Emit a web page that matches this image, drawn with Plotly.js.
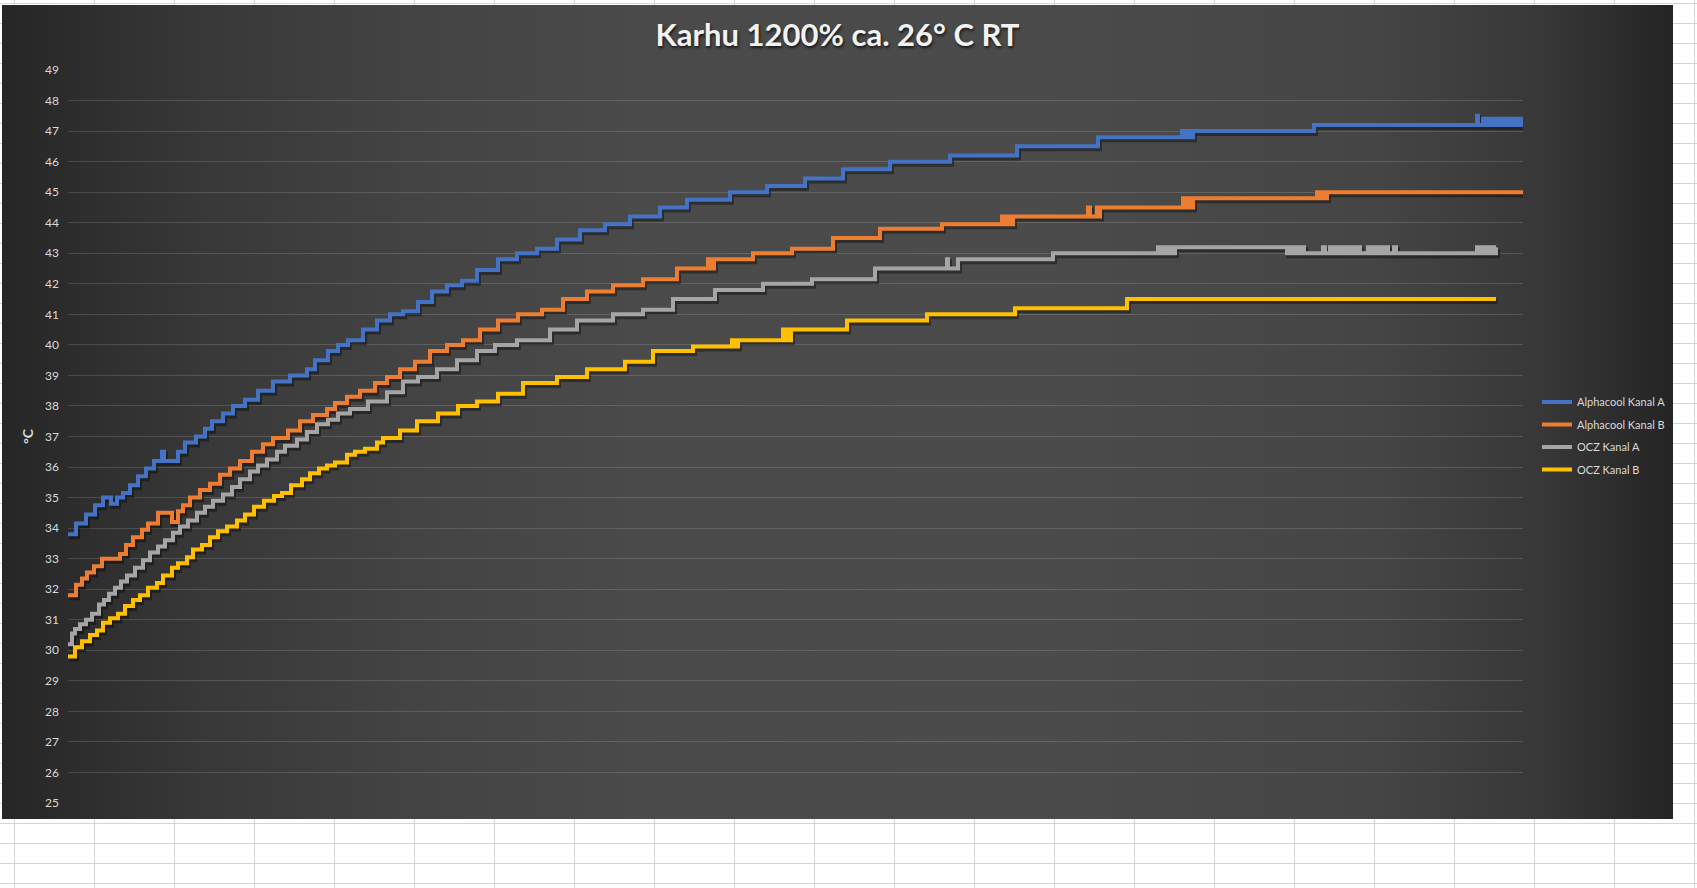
<!DOCTYPE html>
<html>
<head>
<meta charset="utf-8">
<script src="https://cdn.plot.ly/plotly-3.0.1.min.js"></script>
<style>
  html, body { margin: 0; padding: 0; }
  body {
    width: 1697px; height: 888px; overflow: hidden; position: relative;
    background-color: #ffffff;
    background-image:
      linear-gradient(to right, #d4d4d4 1px, transparent 1px),
      linear-gradient(to bottom, #d4d4d4 1px, transparent 1px);
    background-size: 80px 20px;
    background-position: 14px 3px;
  }
  #chart {
    position: absolute; left: 2px; top: 5px; width: 1671px; height: 814px;
    background: linear-gradient(to right, #262626 0%, #383838 12%, #434343 24%, #4a4a4a 38%, #4b4b4b 62%, #454545 82%, #383838 92%, #242424 100%);
  }
</style>
</head>
<body>
<div id="chart"></div>
<script>
// ---- Data (sample index -> temperature °C, step changes) ----
const seriesNames = ["Alphacool Kanal A", "Alphacool Kanal B", "OCZ Kanal A", "OCZ Kanal B"];

const alphaA_t = [0,8,18,27,35,43,49,55,62,70,78,86,94,96,110,117,128,137,144,155,165,177,190,205,222,239,247,260,270,280,295,309,322,335,350,364,379,394,409,430,449,469,489,512,537,562,592,619,662,699,737,775,822,882,949,1030,1114,1116,1118,1120,1122,1124,1125,1246,1409,1410,1415,1417,1418,1420,1421,1423,1425,1426,1428,1430,1431,1433,1435,1436,1438,1440,1441,1443,1445,1447,1448,1450,1451,1453,1455];
const alphaA_v = [33.8,34.15,34.45,34.75,35.0,34.8,35.0,35.15,35.4,35.7,35.95,36.2,36.5,36.2,36.5,36.8,37.0,37.25,37.5,37.75,38.0,38.2,38.5,38.8,39.0,39.2,39.5,39.8,40.0,40.15,40.5,40.8,41.0,41.1,41.4,41.75,41.95,42.1,42.45,42.8,43.0,43.15,43.45,43.75,43.95,44.2,44.5,44.75,45.0,45.2,45.45,45.75,46.0,46.2,46.5,46.8,47.0,46.8,47.0,46.8,47.0,46.8,47.0,47.2,47.5,47.2,47.4,47.2,47.4,47.2,47.4,47.2,47.4,47.2,47.4,47.2,47.4,47.2,47.4,47.2,47.4,47.2,47.4,47.2,47.4,47.2,47.4,47.2,47.4,47.2,47.2];

const alphaB_t = [0,8,14,19,26,34,52,58,65,74,80,90,104,110,115,122,132,142,152,162,172,184,195,205,220,232,245,259,267,279,292,307,319,332,347,362,379,395,412,430,450,474,495,519,545,575,609,640,643,646,685,724,765,812,874,934,937,940,943,945,1020,1022,1029,1031,1032,1115,1118,1121,1123,1125,1249,1252,1255,1257,1259,1455];
const alphaB_v = [31.8,32.15,32.35,32.55,32.75,33.0,33.15,33.45,33.7,33.95,34.15,34.5,34.2,34.55,34.75,35.0,35.25,35.45,35.75,35.95,36.2,36.5,36.75,36.95,37.2,37.5,37.7,37.9,38.1,38.3,38.5,38.75,38.95,39.2,39.45,39.8,40.0,40.15,40.5,40.8,41.0,41.15,41.5,41.75,41.95,42.15,42.5,42.8,42.5,42.8,43.0,43.15,43.5,43.8,43.95,44.2,43.95,44.2,43.95,44.2,44.5,44.2,44.5,44.2,44.5,44.8,44.5,44.8,44.5,44.8,45.0,44.8,45.0,44.8,45.0,45.0];

const oczA_t = [0,4,7,12,18,24,31,36,41,47,53,59,67,75,82,90,97,105,112,120,129,137,145,155,164,172,182,190,199,209,217,229,239,249,260,270,282,300,319,335,350,369,389,409,427,449,482,509,545,575,605,647,695,744,807,879,880,890,985,1090,1092,1094,1096,1098,1101,1103,1105,1107,1219,1221,1223,1225,1228,1230,1232,1234,1236,1240,1255,1257,1262,1264,1267,1269,1273,1275,1279,1281,1285,1287,1290,1292,1300,1302,1306,1308,1312,1314,1318,1320,1326,1328,1409,1411,1414,1416,1419,1421,1424,1426,1428];
const oczA_v = [30.2,30.55,30.7,30.85,31.0,31.2,31.5,31.65,31.85,32.05,32.25,32.45,32.7,32.95,33.2,33.4,33.6,33.85,34.05,34.25,34.5,34.7,34.9,35.1,35.35,35.6,35.85,36.05,36.25,36.5,36.7,36.9,37.15,37.4,37.55,37.75,37.9,38.15,38.45,38.8,38.95,39.2,39.5,39.8,40.0,40.15,40.5,40.8,41.0,41.15,41.5,41.8,42.0,42.15,42.5,42.8,42.5,42.8,43.0,43.2,43.0,43.2,43.0,43.2,43.0,43.2,43.0,43.2,43.0,43.2,43.0,43.2,43.0,43.2,43.0,43.2,43.0,43.0,43.2,43.0,43.2,43.0,43.2,43.0,43.2,43.0,43.2,43.0,43.2,43.0,43.2,43.0,43.2,43.0,43.2,43.0,43.2,43.0,43.2,43.0,43.2,43.0,43.2,43.0,43.2,43.0,43.2,43.0,43.2,43.0,43.2,43.0];

const oczB_t = [0,7,14,22,29,35,42,50,57,65,72,80,89,95,104,110,119,125,134,142,150,159,169,177,186,196,206,214,223,234,242,251,259,267,279,287,297,309,315,332,349,370,390,409,430,455,489,519,557,585,625,664,666,667,669,670,715,717,719,721,723,779,859,947,1059,1428];
const oczB_v = [29.8,30.1,30.3,30.5,30.65,30.9,31.05,31.2,31.45,31.65,31.8,32.05,32.2,32.45,32.7,32.85,33.05,33.3,33.45,33.7,33.9,34.05,34.25,34.45,34.7,34.9,35.05,35.15,35.4,35.6,35.8,35.95,36.05,36.15,36.4,36.5,36.6,36.8,36.95,37.2,37.5,37.75,38.0,38.15,38.4,38.75,38.95,39.2,39.45,39.8,39.95,40.15,39.95,40.15,39.95,40.15,40.5,40.15,40.5,40.15,40.5,40.8,41.0,41.2,41.5,41.5];

const yTicks = [25,26,27,28,29,30,31,32,33,34,35,36,37,38,39,40,41,42,43,44,45,46,47,48,49];

const colors = ["#4472C4", "#ED7D31", "#A5A5A5", "#FFC000"];
const tSeries = [alphaA_t, alphaB_t, oczA_t, oczB_t];
const vSeries = [alphaA_v, alphaB_v, oczA_v, oczB_v];

// plot geometry helpers for the drop-shadow axes
const plotH = 733, plotW = 1455;
const yMin = 25, yMax = 49, xMax = 1455;
const shDown = 2.5 * (yMax - yMin) / plotH;   // shadow offset down
const shRight = 1.5 * xMax / plotW;            // shadow offset right

const traces = [];
// shadows (base axes)
for (let i = 0; i < 4; i++) {
  traces.push({
    x: tSeries[i], y: vSeries[i], type: "scatter", mode: "lines",
    line: {shape: "hv", width: 5, color: "rgba(0,0,0,0.38)"},
    xaxis: "x", yaxis: "y", showlegend: false, hoverinfo: "skip"
  });
}
// main lines (overlay axes)
for (let i = 0; i < 4; i++) {
  traces.push({
    x: tSeries[i], y: vSeries[i], type: "scatter", mode: "lines",
    name: seriesNames[i], legendgroup: "g" + i,
    line: {shape: "hv", width: 4, color: colors[i]},
    xaxis: "x2", yaxis: "y2"
  });
}

const tickFont = {family: "Lato, 'DejaVu Sans', sans-serif", size: 12, color: "#d9d9d9"};

const layout = {
  width: 1671, height: 814,
  paper_bgcolor: "rgba(0,0,0,0)", plot_bgcolor: "rgba(0,0,0,0)",
  margin: {l: 66, r: 150, t: 65, b: 16, pad: 0},
  title: {
    text: "<b>Karhu 1200% ca. 26° C RT</b>",
    font: {family: "Lato, 'Open Sans', sans-serif", size: 31, color: "#f2f2f2",
           shadow: "1px 2px 3px rgba(0,0,0,0.7)"},
    xref: "container", x: 0.5, xanchor: "center",
    yref: "container", y: 1 - 30/814, yanchor: "middle"
  },
  xaxis: {range: [-shRight, xMax - shRight], visible: false, fixedrange: true},
  yaxis: {range: [yMin + shDown, yMax + shDown], visible: false, fixedrange: true},
  xaxis2: {overlaying: "x", range: [0, xMax], visible: false, showgrid: false, zeroline: false},
  yaxis2: {
    overlaying: "y", side: "left", anchor: "x2", range: [yMin, yMax],
    tickmode: "array", tickvals: yTicks, ticktext: yTicks.map(String),
    showgrid: true, gridcolor: "rgba(255,255,255,0.14)", gridwidth: 1,
    zeroline: false, showline: false, ticks: "", ticklabelstandoff: 8,
    tickfont: tickFont,
    title: {text: "<b>°C</b>", standoff: 8,
            font: {family: "Lato, 'DejaVu Sans', sans-serif", size: 14, color: "#d9d9d9"}}
  },
  showlegend: true,
  legend: {
    xref: "container", yref: "container",
    x: 1535/1671, xanchor: "left", y: 1 - 431/814, yanchor: "middle",
    font: {family: "Lato, 'DejaVu Sans', sans-serif", size: 11, color: "#d9d9d9"},
    bgcolor: "rgba(0,0,0,0)", borderwidth: 0, tracegroupgap: 3.5,
    itemwidth: 30, traceorder: "grouped"
  },
  hovermode: false
};

Plotly.newPlot("chart", traces, layout, {displayModeBar: false, staticPlot: true});
</script>
</body>
</html>
